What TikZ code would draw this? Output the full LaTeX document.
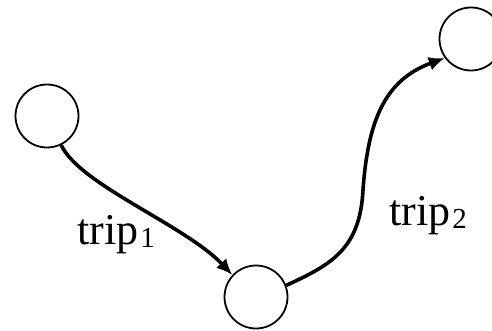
\documentclass[tikz,border=0pt]{standalone}
\usepackage{fontspec}
\setmainfont{Liberation Serif}
\usetikzlibrary{arrows.meta}
\newcommand{\tripsub}[1]{trip\kern2pt\raisebox{-3pt}{\fontsize{29}{32}\selectfont #1}}
\begin{document}
\begin{tikzpicture}[x=1pt,y=-1pt,
  state/.style={circle, draw, line width=1.8pt, minimum size=63pt, inner sep=0pt},
  trip/.style={line width=3.6pt, -{Latex[length=16pt,width=14pt]}},
  lbl/.style={font=\fontsize{44}{50}\selectfont, inner sep=0pt, anchor=base west}]
\useasboundingbox (0,0) rectangle (492,331);
\clip (0,0) rectangle (492,331);
\node[state] (a) at (47,116) {};
\node[state] (b) at (256,297) {};
\node[state] (c) at (471,39) {};
\draw[trip] (a.-64) .. controls (80,185) and (185,225) .. (b.137);
\coordinate (m) at (363,190);
\draw[trip] (b.21) .. controls (330,265) and (360,250) .. (m)
  .. controls (368,120) and (385,80) .. (c.216);
\node[lbl] (l1) at (77,244) {\tripsub{1}};
\node[lbl] (l2) at (389,225) {\tripsub{2}};
\end{tikzpicture}
\end{document}
